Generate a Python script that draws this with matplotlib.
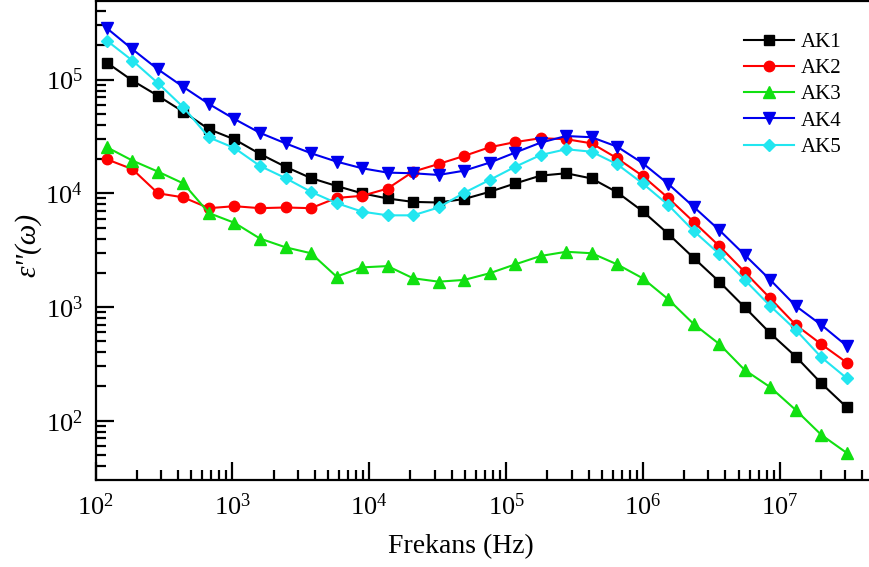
import matplotlib
matplotlib.use('Agg')
import matplotlib.pyplot as plt
from matplotlib.ticker import LogLocator, NullFormatter

plt.rcParams['font.family'] = ['Liberation Serif', 'DejaVu Serif']
plt.rcParams['mathtext.fontset'] = 'custom'
plt.rcParams['mathtext.rm'] = 'Liberation Serif'
plt.rcParams['mathtext.it'] = 'Liberation Serif:italic'

# frequency points (Hz)
freq = [121, 186, 286, 439, 674, 1035, 1590, 2443, 3752, 5763,
        8851, 13600, 20890, 32080, 49280, 75700, 116200, 178500, 274200, 421200,
        647000, 993700, 1.526e6, 2.344e6, 3.60e6, 5.53e6, 8.50e6, 1.306e7, 2.006e7, 3.08e7]

ak1 = [1.41e5, 9.8e4, 7.2e4, 5.2e4, 3.66e4, 2.98e4, 2.22e4, 1.71e4, 1.36e4, 1.16e4,
       1.0e4, 9.0e3, 8.4e3, 8.3e3, 8.9e3, 1.03e4, 1.22e4, 1.43e4, 1.5e4, 1.35e4,
       1.02e4, 6.95e3, 4.4e3, 2.7e3, 1.67e3, 994, 587, 366, 213, 131]
ak2 = [1.99e4, 1.63e4, 1.0e4, 9.2e3, 7.4e3, 7.7e3, 7.4e3, 7.5e3, 7.4e3, 9.1e3,
       9.5e3, 1.1e4, 1.55e4, 1.81e4, 2.13e4, 2.54e4, 2.82e4, 3.05e4, 2.99e4, 2.75e4,
       2.03e4, 1.42e4, 9.1e3, 5.6e3, 3.44e3, 2.03e3, 1.19e3, 695, 470, 324]
ak3 = [2.54e4, 1.94e4, 1.55e4, 1.22e4, 6.7e3, 5.5e3, 4.0e3, 3.35e3, 2.97e3, 1.85e3,
       2.23e3, 2.29e3, 1.79e3, 1.67e3, 1.73e3, 1.98e3, 2.37e3, 2.81e3, 3.06e3, 2.97e3,
       2.37e3, 1.79e3, 1.17e3, 708, 473, 279, 197, 124, 75, 52]
ak4 = [2.83e5, 1.85e5, 1.23e5, 8.6e4, 6.1e4, 4.5e4, 3.4e4, 2.75e4, 2.25e4, 1.9e4,
       1.66e4, 1.52e4, 1.5e4, 1.45e4, 1.58e4, 1.86e4, 2.28e4, 2.79e4, 3.19e4, 3.11e4,
       2.57e4, 1.84e4, 1.21e4, 7.6e3, 4.75e3, 2.87e3, 1.73e3, 1.02e3, 695, 454]
ak5 = [2.2e5, 1.47e5, 9.3e4, 5.7e4, 3.1e4, 2.5e4, 1.74e4, 1.36e4, 1.03e4, 8.2e3,
       6.9e3, 6.4e3, 6.4e3, 7.5e3, 1.01e4, 1.31e4, 1.71e4, 2.17e4, 2.44e4, 2.32e4,
       1.8e4, 1.22e4, 7.9e3, 4.66e3, 2.93e3, 1.73e3, 1.02e3, 628, 361, 236]

labels = ['AK1', 'AK2', 'AK3', 'AK4', 'AK5']

fig = plt.figure(figsize=(8.69, 5.67), dpi=100)
ax = fig.add_axes([95.5 / 869, 87 / 567, 1 - 95.5 / 869, 479 / 567])

ax.plot(freq, ak1, color='black', marker='s', ms=7, lw=1.5, label=labels[0])
ax.plot(freq, ak2, color='#ff0000', marker='o', ms=7.5, lw=1.5, label=labels[1])
ax.plot(freq, ak3, color='#11e011', marker='^', ms=9, lw=1.5, label=labels[2])
ax.plot(freq, ak4, color='#0000ee', marker='v', ms=9, lw=1.5, label=labels[3])
ax.plot(freq, ak5, color='#22e6f0', marker='D', ms=6.5, lw=1.5, label=labels[4])

ax.set_xscale('log')
ax.set_yscale('log')
ax.set_xlim(100, 4.47e7)
ax.set_ylim(30.1, 4.91e5)

ax.xaxis.set_major_locator(LogLocator(base=10, numticks=12))
ax.xaxis.set_minor_locator(LogLocator(base=10, subs=range(2, 10), numticks=12))
ax.yaxis.set_major_locator(LogLocator(base=10, numticks=12))
ax.yaxis.set_minor_locator(LogLocator(base=10, subs=range(2, 10), numticks=12))
ax.xaxis.set_minor_formatter(NullFormatter())
ax.yaxis.set_minor_formatter(NullFormatter())

ax.tick_params(which='both', direction='in', top=False, right=False, width=1.6)
ax.tick_params(which='major', length=13, labelsize=19)
ax.tick_params(axis='x', which='major', pad=10)
ax.tick_params(axis='y', which='major', pad=9)
ax.tick_params(which='minor', length=7)
for s in ax.spines.values():
    s.set_linewidth(1.6)
ax.spines['right'].set_visible(False)

ax.set_xlabel('Frekans (Hz)', fontsize=20)
ax.xaxis.set_label_coords(0.4725, -0.112)
ax.set_ylabel("ε''(ω)", fontsize=21, style='italic')
ax.yaxis.label.set_va('center')
ax.yaxis.set_label_coords(-0.087, 0.49)

ax.legend(loc='upper right', bbox_to_anchor=(0.975, 0.952), frameon=False, fontsize=15,
          handlelength=2.4, handletextpad=0.3, labelspacing=0.32, borderaxespad=0)

fig.savefig('out.png', dpi=100)
